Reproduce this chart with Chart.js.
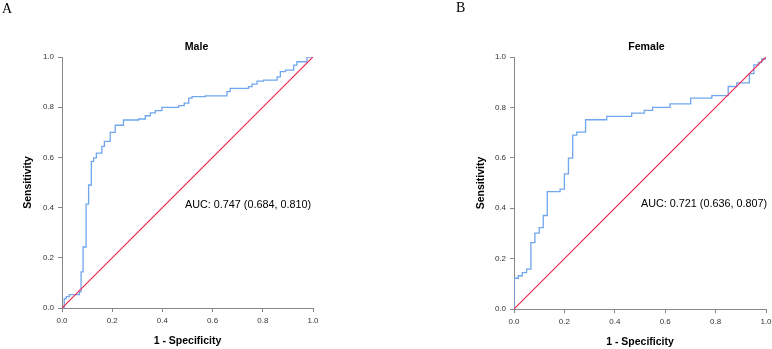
<!DOCTYPE html>
<html><head><meta charset="utf-8">
<script src="https://cdn.jsdelivr.net/npm/chart.js@4.4.0/dist/chart.umd.min.js"></script>
<style>
html,body{margin:0;padding:0;background:#fff;overflow:hidden;width:772px;height:349px;}
#wrap{position:relative;width:772px;height:349px;overflow:hidden;}
.cv{position:absolute;top:0;}
.lbl{position:absolute;white-space:nowrap;line-height:1;font-family:"Liberation Sans",Arial,sans-serif;color:#000;}
.panel{font-family:"Liberation Serif","Times New Roman",serif;font-size:14px;}
.ttl{font-weight:bold;font-size:10.6px;transform:translateX(-50%);}
.auc{font-size:10.8px;}
</style></head><body>
<div id="wrap">
<div class="cv" style="left:0"><canvas id="c1" width="386" height="349"></canvas></div>
<div class="cv" style="left:386px"><canvas id="c2" width="400" height="349"></canvas></div>
<div class="lbl panel" style="left:2px;top:2px">A</div>
<div class="lbl panel" style="left:456px;top:1px">B</div>
<div class="lbl ttl" style="left:196.5px;top:41px">Male</div>
<div class="lbl ttl" style="left:646.5px;top:41px">Female</div>
<div class="lbl auc" style="left:185px;top:199px">AUC: 0.747 (0.684, 0.810)</div>
<div class="lbl auc" style="left:641px;top:198px">AUC: 0.721 (0.636, 0.807)</div>
</div>
<script>
// ---- data ----
const tickValues = [0, 0.2, 0.4, 0.6, 0.8, 1.0];
const diagX = [0, 1];
const diagY = [0, 1];

const maleFPR = [0, 0.009, 0.017, 0.029, 0.069, 0.076, 0.084, 0.096, 0.106, 0.117, 0.126, 0.137, 0.159, 0.169, 0.192, 0.212, 0.245, 0.305, 0.332, 0.352, 0.372, 0.398, 0.465, 0.487, 0.505, 0.518, 0.571, 0.657, 0.670, 0.743, 0.757, 0.777, 0.803, 0.857, 0.870, 0.890, 0.923, 0.936, 0.976, 1.0];
const maleTPR = [0, 0.037, 0.045, 0.053, 0.064, 0.144, 0.243, 0.414, 0.490, 0.584, 0.598, 0.617, 0.644, 0.664, 0.700, 0.728, 0.749, 0.753, 0.766, 0.777, 0.786, 0.799, 0.806, 0.816, 0.836, 0.842, 0.845, 0.862, 0.875, 0.882, 0.892, 0.904, 0.908, 0.921, 0.942, 0.948, 0.968, 0.981, 1.0, 1.0];

const femaleFPR = [0, 0, 0.017, 0.033, 0.050, 0.067, 0.083, 0.100, 0.116, 0.132, 0.169, 0.183, 0.200, 0.216, 0.233, 0.249, 0.284, 0.368, 0.467, 0.517, 0.550, 0.619, 0.701, 0.785, 0.850, 0.884, 0.934, 0.952, 0.970, 0.983, 1.0];
const femaleTPR = [0, 0.122, 0.132, 0.144, 0.158, 0.263, 0.301, 0.323, 0.371, 0.466, 0.466, 0.476, 0.536, 0.599, 0.690, 0.702, 0.751, 0.764, 0.777, 0.788, 0.800, 0.814, 0.837, 0.847, 0.883, 0.897, 0.934, 0.969, 0.979, 0.992, 1.0];

Chart.defaults.font.family = '"Liberation Sans", Arial, sans-serif';

function pts(xs, ys) { return xs.map((x, i) => ({x: x, y: ys[i]})); }

function makeChart(id, fpr, tpr, o) {
  new Chart(document.getElementById(id), {
    type: 'line',
    data: {
      datasets: [
        {data: pts(diagX, diagY), borderColor: '#f2274f', borderWidth: 1.2, pointRadius: 0, order: 0},
        {data: pts(fpr, tpr), borderColor: '#6fa6ee', borderWidth: 1.3, pointRadius: 0, stepped: true, order: 1}
      ]
    },
    options: {
      responsive: false,
      animation: false,
      layout: {padding: {left: 0, right: o.padR, top: 57, bottom: 0}},
      plugins: {legend: {display: false}, tooltip: {enabled: false}},
      scales: {
        x: {
          type: 'linear', min: 0, max: 1,
          afterBuildTicks: s => { s.ticks = tickValues.map(v => ({value: v})); },
          ticks: {callback: v => Number(v).toFixed(1), font: {size: 8}, color: '#333', padding: 4, maxRotation: 0, autoSkip: false},
          grid: {display: true, drawOnChartArea: false, tickLength: 4, color: '#888'},
          border: {color: '#888', width: 1},
          title: {display: true, text: '1 - Specificity', font: {size: 10.5, weight: 'bold'}, color: '#000', padding: {top: 0, bottom: o.xtPad}},
          afterFit: s => { s.height = o.xH; }
        },
        y: {
          type: 'linear', min: 0, max: 1,
          afterBuildTicks: s => { s.ticks = tickValues.map(v => ({value: v})); },
          ticks: {callback: v => Number(v).toFixed(1), font: {size: 8}, color: '#333', padding: 4, autoSkip: false},
          grid: {display: true, drawOnChartArea: false, tickLength: 4, color: '#888'},
          border: {color: '#888', width: 1},
          title: {display: true, text: 'Sensitivity', font: {size: 10.5, weight: 'bold'}, color: '#000', padding: {top: o.ytPad, bottom: 0}},
          afterFit: s => { s.width = o.yW; }
        }
      }
    }
  });
}

makeChart('c1', maleFPR, maleTPR, {padR: 73, xH: 41, yW: 62, ytPad: 22, xtPad: 2});
makeChart('c2', femaleFPR, femaleTPR, {padR: 20, xH: 40, yW: 128, ytPad: 88.7, xtPad: 1});
</script>
</body></html>
